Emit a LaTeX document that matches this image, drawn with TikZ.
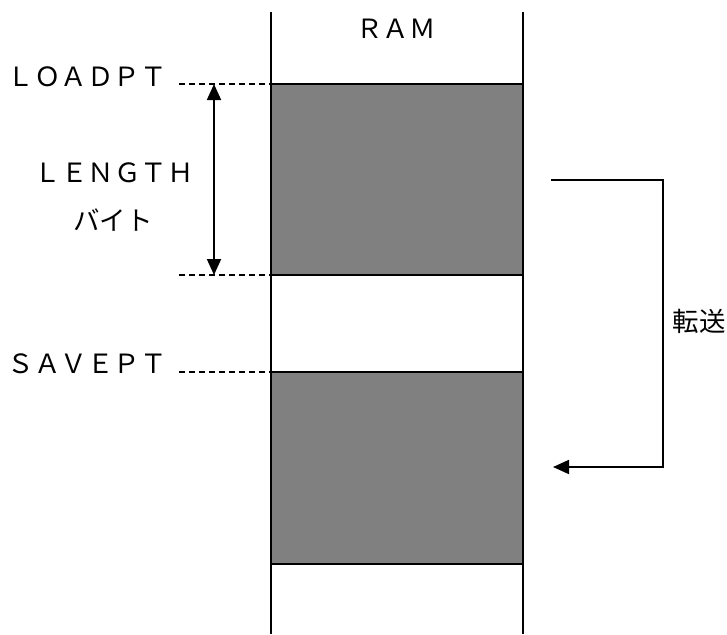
\documentclass[tikz,border=0pt]{standalone}
\usepackage{fontspec}
\setmainfont{Noto Sans CJK JP}
\usetikzlibrary{arrows.meta}
\definecolor{blockgray}{RGB}{128,128,128}
\begin{document}
\begin{tikzpicture}[x=1pt,y=-1pt,
  line/.style={line width=1.8pt,black},
  membox/.style={draw=black,line width=1.8pt,fill=blockgray,minimum width=252pt,inner sep=0pt,outer sep=0pt},
  lbl/.style={font=\fontsize{26.5}{30}\selectfont,inner sep=0pt,text=black},
  guide/.style={line width=1.3pt,dash pattern=on 6pt off 4pt},
  arr/.style={line width=1.8pt,-{Triangle[length=16pt,width=14pt]}},
  darr/.style={line width=1.8pt,{Triangle[length=16pt,width=14pt]}-{Triangle[length=16pt,width=14pt]}}]
\useasboundingbox (0,0) rectangle (727,634);
% memory column walls
\coordinate (lt) at (271,12);
\coordinate (lb) at (271,634);
\coordinate (rt) at (523,12);
\coordinate (rb) at (523,634);
\draw[line] (lt) -- (lb);
\draw[line] (rt) -- (rb);
% blocks
\node[membox,minimum height=191pt] (blk1) at (397,179.5) {};
\node[membox,minimum height=192pt] (blk2) at (397,468) {};
% labels
\node[lbl] (ram) at (396,29) {ＲＡＭ};
\node[lbl,anchor=east] (loadpt) at (167,77) {ＬＯＡＤＰＴ};
\node[lbl] (length) at (114,173) {ＬＥＮＧＴＨ};
\node[lbl] (byte) at (113,220) {バイト};
\node[lbl,anchor=east] (savept) at (167,364) {ＳＡＶＥＰＴ};
\node[lbl] (tensou) at (699,321) {転送};
% dashed guide lines
\coordinate (d1) at (179,84);
\coordinate (d2) at (179,275);
\coordinate (d3) at (179,372);
\draw[guide] (d1) -- (blk1.north west);
\draw[guide] (d2) -- (blk1.south west);
\draw[guide] (d3) -- (blk2.north west);
% length arrow
\coordinate (a1) at (214,84);
\coordinate (a2) at (214,275);
\draw[darr] (a1) -- (a2);
% transfer connector
\coordinate (t1) at (551,180);
\coordinate (t2) at (553,467);
\draw[arr] (t1) -- (663,180) -- (663,467) -- (t2);
\end{tikzpicture}
\end{document}
